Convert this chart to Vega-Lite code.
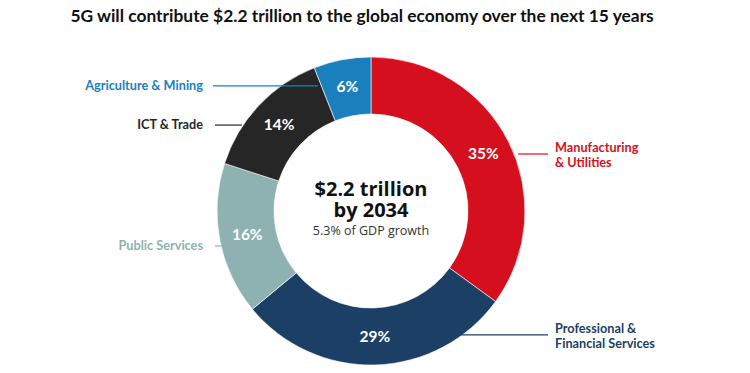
{
  "$schema": "https://vega.github.io/schema/vega-lite/v6.json",
  "width": 742,
  "height": 324,
  "autosize": "none",
  "padding": {"left": 0, "top": 49, "right": 8, "bottom": 0},
  "background": "white",
  "config": {"view": {"stroke": null}, "text": {"font": "Lato"}},
  "datasets": {
    "segments": [
      {"sector": "Manufacturing & Utilities", "share": 35, "label": "35%", "rank": 1},
      {"sector": "Professional & Financial Services", "share": 29, "label": "29%", "rank": 2},
      {"sector": "Public Services", "share": 16, "label": "16%", "rank": 3},
      {"sector": "ICT & Trade", "share": 14, "label": "14%", "rank": 4},
      {"sector": "Agriculture & Mining", "share": 6, "label": "6%", "rank": 5}
    ],
    "labels": [
      {"sector": "Agriculture & Mining", "side": "left", "text": "Agriculture & Mining", "x": -1.091, "y": 0.812},
      {"sector": "ICT & Trade", "side": "left", "text": "ICT & Trade", "x": -1.091, "y": 0.558},
      {"sector": "Public Services", "side": "left", "text": "Public Services", "x": -1.091, "y": -0.227},
      {"sector": "Manufacturing & Utilities", "side": "right", "text": "Manufacturing", "x": 1.195, "y": 0.409},
      {"sector": "Manufacturing & Utilities", "side": "right", "text": "& Utilities", "x": 1.195, "y": 0.312},
      {"sector": "Professional & Financial Services", "side": "right", "text": "Professional &", "x": 1.195, "y": -0.766},
      {"sector": "Professional & Financial Services", "side": "right", "text": "Financial Services", "x": 1.195, "y": -0.864}
    ],
    "leaders": [
      {"sector": "Agriculture & Mining", "x1": -1.026, "x2": -0.344, "y": 0.812},
      {"sector": "ICT & Trade", "x1": -1.013, "x2": -0.838, "y": 0.558},
      {"sector": "Public Services", "x1": -1.013, "x2": -0.948, "y": -0.227},
      {"sector": "Manufacturing & Utilities", "x1": 0.955, "x2": 1.149, "y": 0.370},
      {"sector": "Professional & Financial Services", "x1": 0.577, "x2": 1.149, "y": -0.805}
    ],
    "texts": [
      {"role": "title", "text": "5G will contribute $2.2 trillion to the global economy over the next 15 years", "x": -0.058, "y": 1.26},
      {"role": "big", "text": "$2.2 trillion\nby 2034", "x": 0, "y": 0.1396},
      {"role": "small", "text": "5.3% of GDP growth", "x": 0, "y": -0.130}
    ]
  },
  "layer": [
    {
      "data": {"name": "segments"},
      "mark": {"type": "arc", "outerRadius": 154, "innerRadius": 97, "stroke": "white", "strokeWidth": 0.6},
      "encoding": {
        "theta": {"field": "share", "type": "quantitative", "stack": true},
        "order": {"field": "rank", "type": "quantitative", "sort": "ascending"},
        "color": {
          "field": "sector", "type": "nominal", "legend": null,
          "scale": {
            "domain": ["Manufacturing & Utilities", "Professional & Financial Services", "Public Services", "ICT & Trade", "Agriculture & Mining"],
            "range": ["#d50f1d", "#1c3f66", "#8db2b1", "#262626", "#1a7fbd"]
          }
        }
      }
    },
    {
      "data": {"name": "segments"},
      "mark": {"type": "text", "radius": 126, "fontSize": 15.5, "fontWeight": "bold", "color": "white"},
      "encoding": {
        "theta": {"field": "share", "type": "quantitative", "stack": true},
        "order": {"field": "rank", "type": "quantitative", "sort": "ascending"},
        "text": {"field": "label"}
      }
    },
    {
      "data": {"name": "leaders"},
      "mark": {"type": "rule", "strokeWidth": 1.2},
      "encoding": {
        "x": {"field": "x1", "type": "quantitative", "axis": null, "scale": {"domain": [-2.409, 2.409], "nice": false, "zero": false}},
        "x2": {"field": "x2"},
        "y": {"field": "y", "type": "quantitative", "axis": null, "scale": {"domain": [-1.052, 1.052], "nice": false, "zero": false}},
        "color": {"field": "sector", "type": "nominal", "legend": null}
      }
    },
    {
      "data": {"name": "labels"},
      "transform": [{"filter": "datum.side === 'left'"}],
      "mark": {"type": "text", "align": "right", "fontSize": 12.7, "fontWeight": "bold"},
      "encoding": {
        "x": {"field": "x", "type": "quantitative"},
        "y": {"field": "y", "type": "quantitative"},
        "text": {"field": "text"},
        "color": {"field": "sector", "type": "nominal", "legend": null}
      }
    },
    {
      "data": {"name": "labels"},
      "transform": [{"filter": "datum.side === 'right'"}],
      "mark": {"type": "text", "align": "left", "fontSize": 12.7, "fontWeight": "bold"},
      "encoding": {
        "x": {"field": "x", "type": "quantitative"},
        "y": {"field": "y", "type": "quantitative"},
        "text": {"field": "text"},
        "color": {"field": "sector", "type": "nominal", "legend": null}
      }
    },
    {
      "data": {"name": "texts"},
      "transform": [{"filter": "datum.role === 'title'"}],
      "mark": {"type": "text", "align": "center", "fontSize": 17.4, "fontWeight": "bold", "color": "#111111"},
      "encoding": {
        "x": {"field": "x", "type": "quantitative"},
        "y": {"field": "y", "type": "quantitative"},
        "text": {"field": "text"}
      }
    },
    {
      "data": {"name": "texts"},
      "transform": [{"filter": "datum.role === 'big'"}],
      "mark": {"type": "text", "align": "center", "baseline": "middle", "lineBreak": "\n", "lineHeight": 21, "font": "Open Sans", "fontSize": 20, "fontWeight": "bold", "color": "#111111"},
      "encoding": {
        "x": {"field": "x", "type": "quantitative"},
        "y": {"field": "y", "type": "quantitative"},
        "text": {"field": "text"}
      }
    },
    {
      "data": {"name": "texts"},
      "transform": [{"filter": "datum.role === 'small'"}],
      "mark": {"type": "text", "align": "center", "font": "Open Sans", "fontSize": 12.5, "color": "#333333"},
      "encoding": {
        "x": {"field": "x", "type": "quantitative"},
        "y": {"field": "y", "type": "quantitative"},
        "text": {"field": "text"}
      }
    }
  ]
}
